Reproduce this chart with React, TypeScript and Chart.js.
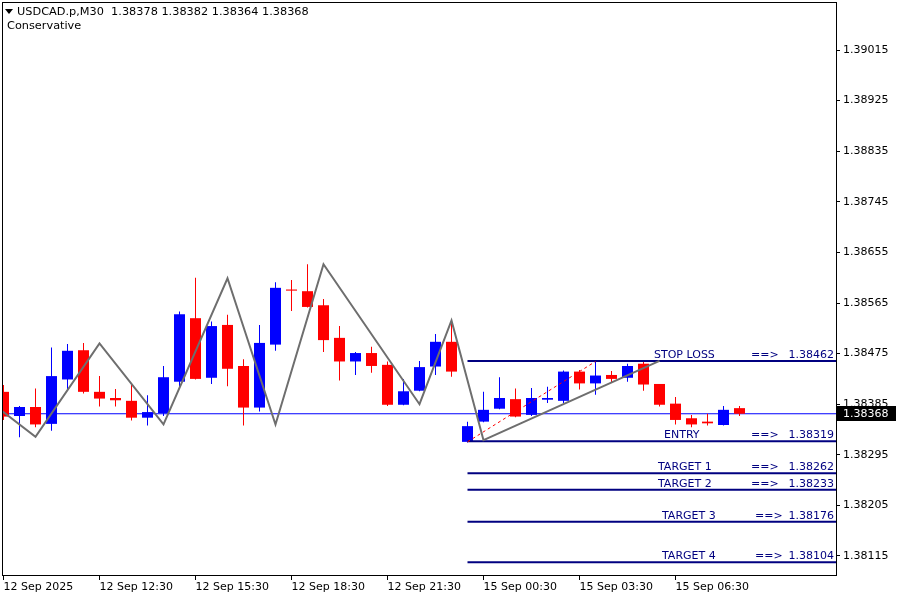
import { useEffect, useRef } from "react";
import { Chart, registerables } from "chart.js";

Chart.register(...registerables);

// ---- data ----
const symbolTitle = "USDCAD.p,M30";
const subtitle = "Conservative";

const opens = [
  1.38407, 1.38364, 1.3838, 1.3835, 1.38429, 1.38481, 1.38407, 1.38396, 1.38391, 1.38361,
  1.38369, 1.38425, 1.38538, 1.38432, 1.38526, 1.38453, 1.38379, 1.38491, 1.38589, 1.38586,
  1.38561, 1.38503, 1.38461, 1.38476, 1.38455, 1.38384, 1.38409, 1.38452, 1.38496, 1.38318,
  1.38354, 1.38377, 1.38394, 1.38366, 1.38393, 1.38391, 1.38443, 1.38422, 1.38437, 1.38432,
  1.38457, 1.38421, 1.38386, 1.3836, 1.38354, 1.38348, 1.38378,
];
const highs = [
  1.38419, 1.38382, 1.38413, 1.38486, 1.38492, 1.38494, 1.38435, 1.38412, 1.38419, 1.38401,
  1.38453, 1.3855, 1.3861, 1.38532, 1.38544, 1.38465, 1.38526, 1.38602, 1.38606, 1.38634,
  1.38572, 1.38524, 1.38478, 1.38487, 1.38461, 1.3843, 1.38462, 1.3851, 1.38535, 1.38354,
  1.38407, 1.38433, 1.38413, 1.38414, 1.38416, 1.38445, 1.38446, 1.38461, 1.38444, 1.38457,
  1.3846, 1.38421, 1.38398, 1.38366, 1.38368, 1.38382, 1.38382,
];
const lows = [
  1.38357, 1.38326, 1.38344, 1.38338, 1.3841, 1.38404, 1.38381, 1.38381, 1.38356, 1.38347,
  1.38364, 1.38416, 1.38429, 1.38421, 1.38417, 1.38347, 1.38372, 1.3848, 1.38551, 1.38557,
  1.38478, 1.38427, 1.38437, 1.38441, 1.38382, 1.38383, 1.38408, 1.38437, 1.38434, 1.38317,
  1.38353, 1.38376, 1.38362, 1.38364, 1.38387, 1.38387, 1.38411, 1.38402, 1.38423, 1.38425,
  1.38409, 1.38381, 1.38349, 1.38344, 1.38347, 1.38347, 1.38364,
];
const closes = [
  1.38363, 1.3838, 1.38349, 1.38435, 1.3848, 1.38407, 1.38395, 1.38392, 1.38361, 1.38371,
  1.38433, 1.38545, 1.3843, 1.38524, 1.38448, 1.38379, 1.38494, 1.38592, 1.38587, 1.38558,
  1.38499, 1.38461, 1.38476, 1.38453, 1.38384, 1.38408, 1.38451, 1.38496, 1.38443, 1.38346,
  1.38375, 1.38396, 1.38363, 1.38396, 1.38396, 1.38443, 1.38422, 1.38436, 1.3843, 1.38453,
  1.3842, 1.38384, 1.38357, 1.38349, 1.38351, 1.38375, 1.38368,
];

const xTickBars = [0, 6, 12, 18, 24, 30, 36, 42];
const xTickLabels = [
  "12 Sep 2025", "12 Sep 12:30", "12 Sep 15:30", "12 Sep 18:30",
  "12 Sep 21:30", "15 Sep 00:30", "15 Sep 03:30", "15 Sep 06:30",
];
const yTickValues = [
  1.38115, 1.38205, 1.38295, 1.38385, 1.38475, 1.38565, 1.38655, 1.38745, 1.38835, 1.38925, 1.39015,
];

const zigzagBars = [-2, 2, 6, 10, 14, 17, 20, 26, 28, 30, 41];
const zigzagPrices = [
  1.38415, 1.38327, 1.38493, 1.38349, 1.38609, 1.38349, 1.38634, 1.38385, 1.38534, 1.38321, 1.38462,
];

const trendBars = [29, 37];
const trendPrices = [1.38318, 1.38461];

const levelNames = ["STOP LOSS", "ENTRY", "TARGET 1", "TARGET 2", "TARGET 3", "TARGET 4"];
const levelPrices = [1.38462, 1.38319, 1.38262, 1.38233, 1.38176, 1.38104];
const levelStartBar = 29;

const currentPrice = 1.38368;

// axis ranges
const xMin = -0.09375;
const xMax = xMin + 834 / 16;
const yMin = 1.380812;
const yMax = 1.391004;

const FONT = "DejaVu Sans";

export default function App() {
  const ref = useRef<HTMLCanvasElement>(null);

  useEffect(() => {
    document.body.style.margin = "0";
    const canvas = ref.current!;
    const idx = closes.map((_, i) => i);
    const colors = idx.map((i) => (closes[i] >= opens[i] ? "#0000FF" : "#FF0000"));

    const levelNameOffsets = [182, 172, 178, 178, 174, 174];
    const arrowOffsets = [85, 85, 85, 85, 81, 81];

    const overlay = {
      id: "overlay",
      afterDraw(chart: any) {
        const c = chart.ctx as CanvasRenderingContext2D;
        const a = chart.chartArea;
        const ys = chart.scales.y;
        c.save();
        // frame
        c.strokeStyle = "#000";
        c.lineWidth = 1;
        c.strokeRect(Math.round(a.left) + 0.5, Math.round(a.top) + 0.5, Math.round(a.right - a.left), Math.round(a.bottom - a.top));

        // level labels
        c.font = `11px "${FONT}"`;
        c.fillStyle = "#000080";
        c.textBaseline = "alphabetic";
        levelPrices.forEach((p, i) => {
          const y = ys.getPixelForValue(p) - 3;
          c.textAlign = "left";
          c.fillText(levelNames[i], a.right - levelNameOffsets[i], y);
          c.fillText("==>", a.right - arrowOffsets[i], y);
          c.textAlign = "right";
          c.fillText(p.toFixed(5), a.right - 2, y);
        });

        // current price box
        const py = Math.round(ys.getPixelForValue(currentPrice));
        c.fillStyle = "#000";
        c.fillRect(a.right + 1, py - 8, 59, 15);
        c.fillStyle = "#fff";
        c.textAlign = "left";
        c.textBaseline = "middle";
        c.fillText(currentPrice.toFixed(5), a.right + 7, py);

        // header
        c.fillStyle = "#000";
        c.beginPath();
        c.moveTo(5, 9);
        c.lineTo(13, 9);
        c.lineTo(9, 14);
        c.closePath();
        c.fill();
        const n = closes.length - 1;
        const head = `${symbolTitle}  ${opens[n].toFixed(5)} ${highs[n].toFixed(5)} ${lows[n].toFixed(5)} ${closes[n].toFixed(5)}`;
        c.font = `11.3px "${FONT}"`;
        c.textAlign = "left";
        c.textBaseline = "middle";
        c.fillText(head, 17, 12);
        c.fillText(subtitle, 7, 26);
        c.restore();
      },
    };

    const hLine = (price: number, from: number) => [
      { x: from, y: price },
      { x: xMax + 1, y: price },
    ];

    const chart = new Chart(canvas, {
      type: "bar",
      data: {
        datasets: [
          {
            type: "line",
            label: "zigzag",
            data: zigzagBars.map((b, i) => ({ x: b, y: zigzagPrices[i] })),
            borderColor: "#6E6E6E",
            borderWidth: 2,
            pointRadius: 0,
            tension: 0,
            order: 1,
          } as any,
          {
            type: "line",
            label: "trend",
            data: trendBars.map((b, i) => ({ x: b, y: trendPrices[i] })),
            borderColor: "#FF0000",
            borderWidth: 1,
            borderDash: [3, 3],
            pointRadius: 0,
            tension: 0,
            order: 2,
          } as any,
          ...levelPrices.map((p) => ({
            type: "line",
            label: "level",
            data: hLine(p, levelStartBar),
            borderColor: "#000080",
            borderWidth: 2,
            pointRadius: 0,
            order: 3,
          })) as any[],
          {
            type: "bar",
            label: "body",
            data: idx.map((i) => ({ x: i, y: [Math.min(opens[i], closes[i]), Math.max(opens[i], closes[i])] })),
            backgroundColor: colors,
            barThickness: 11,
            maxBarThickness: 11,
            grouped: false,
            inflateAmount: 0,
            borderWidth: 0,
            order: 8,
          } as any,
          {
            type: "bar",
            label: "wick",
            data: idx.map((i) => ({ x: i, y: [lows[i], highs[i]] })),
            backgroundColor: colors,
            barThickness: 1,
            maxBarThickness: 1,
            grouped: false,
            inflateAmount: 0,
            borderWidth: 0,
            order: 9,
          } as any,
          {
            type: "line",
            label: "price",
            data: hLine(currentPrice, xMin - 1),
            borderColor: "#0000FF",
            borderWidth: 1,
            pointRadius: 0,
            order: 10,
          } as any,
        ],
      },
      options: {
        responsive: false,
        animation: false,
        devicePixelRatio: 1,
        events: [],
        layout: { padding: { left: 2, top: 2, right: 0, bottom: 0 } },
        plugins: { legend: { display: false }, tooltip: { enabled: false } },
        scales: {
          x: {
            type: "linear",
            min: xMin,
            max: xMax,
            offset: false,
            grid: { display: true, drawOnChartArea: false, drawTicks: true, tickLength: 5, color: "#000", offset: false },
            border: { display: false },
            ticks: {
              autoSkip: false,
              maxRotation: 0,
              minRotation: 0,
              align: "start",
              padding: 1,
              color: "#000",
              font: { family: FONT, size: 11 },
              callback: (_v: any, i: number) => xTickLabels[i] ?? "",
            },
            afterBuildTicks: (s: any) => {
              s.ticks = xTickBars.map((v) => ({ value: v }));
            },
            afterFit: (s: any) => {
              s.height = 25;
              s.paddingLeft = 0;
              s.paddingRight = 0;
            },
          },
          y: {
            type: "linear",
            position: "right",
            min: yMin,
            max: yMax,
            beginAtZero: false,
            grid: { display: true, drawOnChartArea: false, drawTicks: true, tickLength: 4, color: "#000" },
            border: { display: false },
            ticks: {
              autoSkip: false,
              padding: 3,
              color: "#000",
              font: { family: FONT, size: 11 },
              callback: (v: any) => Number(v).toFixed(5),
            },
            afterBuildTicks: (s: any) => {
              s.ticks = yTickValues.map((v) => ({ value: v }));
            },
            afterFit: (s: any) => {
              s.width = 64;
              s.paddingTop = 0;
              s.paddingBottom = 0;
            },
          },
        },
      } as any,
      plugins: [overlay],
    });

    return () => chart.destroy();
  }, []);

  return (
    <div style={{ position: "fixed", left: 0, top: 0, width: 900, height: 600, background: "#fff" }}>
      <canvas ref={ref} width={900} height={600} style={{ display: "block", width: 900, height: 600 }} />
    </div>
  );
}
